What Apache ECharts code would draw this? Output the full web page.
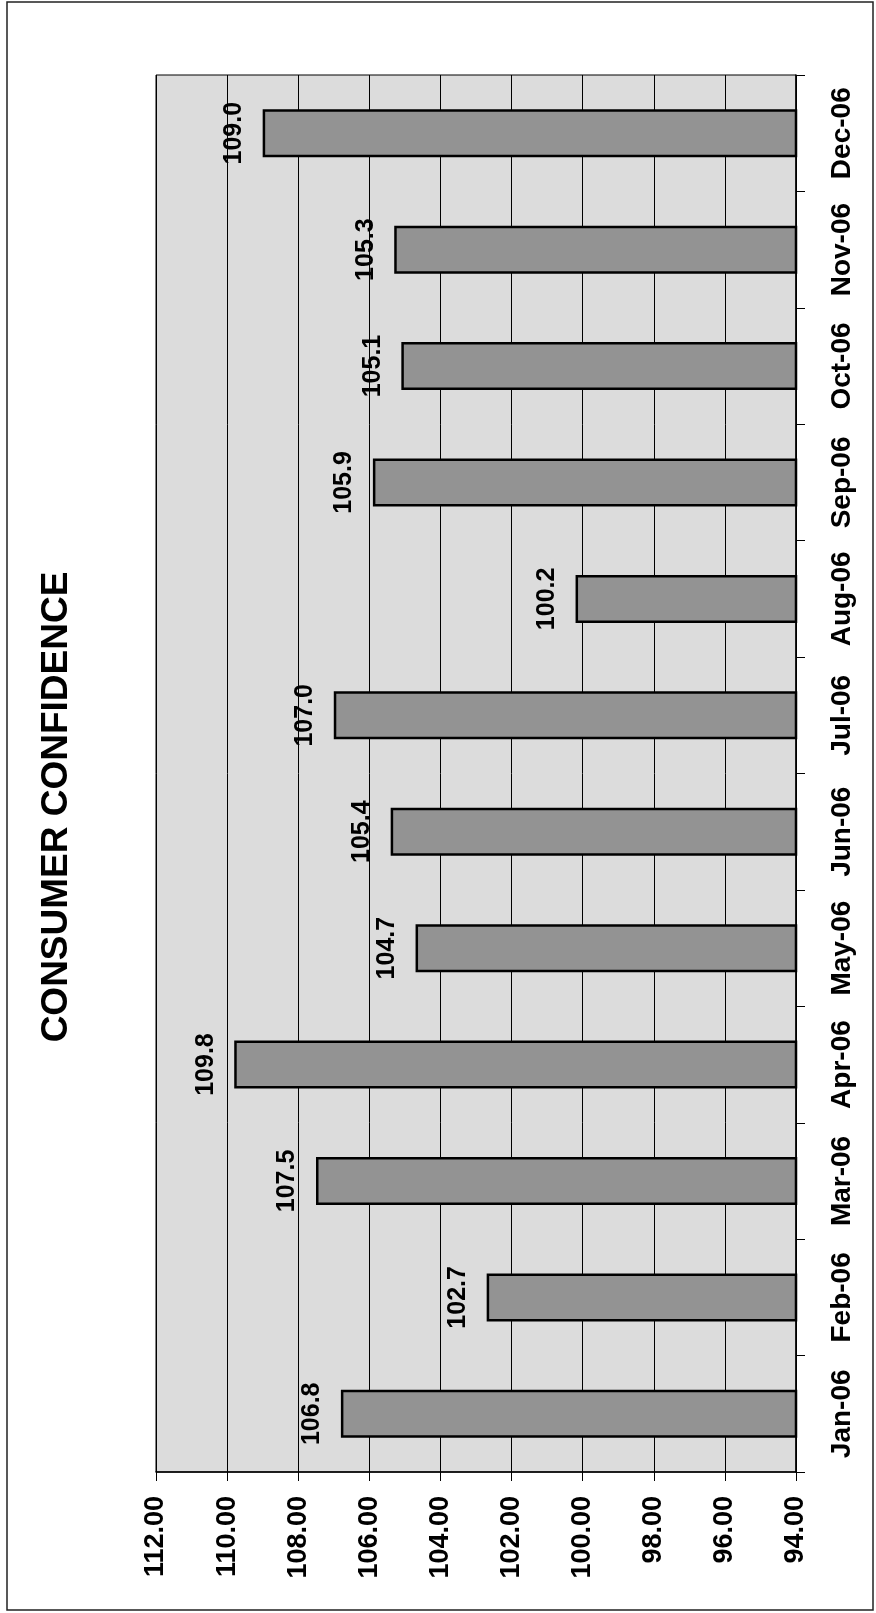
<!DOCTYPE html>
<html>
<head>
<meta charset="utf-8">
<script src="https://cdn.jsdelivr.net/npm/echarts@6/dist/echarts.min.js"></script>
<style>
html,body{margin:0;padding:0;background:#fff;}
#chart{width:876px;height:1613px;}
</style>
</head>
<body>
<div id="chart"></div>
<script>
const titleText = 'CONSUMER CONFIDENCE';
const months = ['Jan-06','Feb-06','Mar-06','Apr-06','May-06','Jun-06','Jul-06','Aug-06','Sep-06','Oct-06','Nov-06','Dec-06'];
const confidence = [106.8, 102.7, 107.5, 109.8, 104.7, 105.4, 107.0, 100.2, 105.9, 105.1, 105.3, 109.0];
const valueMin = 94, valueMax = 112, valueStep = 2;

const FONT = '"Liberation Sans", Arial, sans-serif';
const chart = echarts.init(document.getElementById('chart'), null, {renderer: 'canvas'});
chart.setOption({
  animation: false,
  backgroundColor: '#ffffff',
  grid: {
    left: 156, right: 80, top: 75, bottom: 141,
    show: true, backgroundColor: '#dcdcdc', borderColor: '#000', borderWidth: 1
  },
  graphic: [
    {
      type: 'rect', silent: true,
      shape: {x: 7, y: 2, width: 866, height: 1608},
      style: {fill: 'none', stroke: '#222', lineWidth: 1.5}
    },
    {
      type: 'text', x: 57, y: 807, rotation: Math.PI / 2,
      style: {
        text: titleText, fontFamily: FONT, fontWeight: 'bold', fontSize: 37,
        fill: '#000', align: 'center', verticalAlign: 'middle'
      }
    }
  ],
  xAxis: {
    type: 'value', inverse: true, position: 'bottom',
    min: valueMin, max: valueMax, interval: valueStep,
    axisLine: {show: true, lineStyle: {color: '#000', width: 1.5}},
    axisTick: {show: true, length: 9, lineStyle: {color: '#000', width: 1}},
    splitLine: {show: true, lineStyle: {color: '#000', width: 1}},
    axisLabel: {
      rotate: 90, margin: 24, color: '#000', fontFamily: FONT, fontWeight: 'bold', fontSize: 27,
      formatter: v => v.toFixed(2)
    }
  },
  yAxis: {
    type: 'category', position: 'right', data: months,
    axisLine: {show: true, lineStyle: {color: '#000', width: 1.5}},
    axisTick: {show: true, length: 9, interval: 0, lineStyle: {color: '#000', width: 1}},
    splitLine: {show: false},
    axisLabel: {
      rotate: 90, margin: 32, interval: 0, color: '#000', fontFamily: FONT, fontWeight: 'bold', fontSize: 28
    }
  },
  series: [{
    type: 'bar', data: confidence, barWidth: 48,
    itemStyle: {color: '#939393', borderColor: '#000', borderWidth: 2.5},
    label: {
      show: true, position: 'left', distance: 16, rotate: 90,
      align: 'center', verticalAlign: 'bottom', lineHeight: 25,
      color: '#000', fontFamily: FONT, fontWeight: 'bold', fontSize: 25,
      formatter: p => p.value.toFixed(1)
    }
  }]
});
</script>
</body>
</html>
